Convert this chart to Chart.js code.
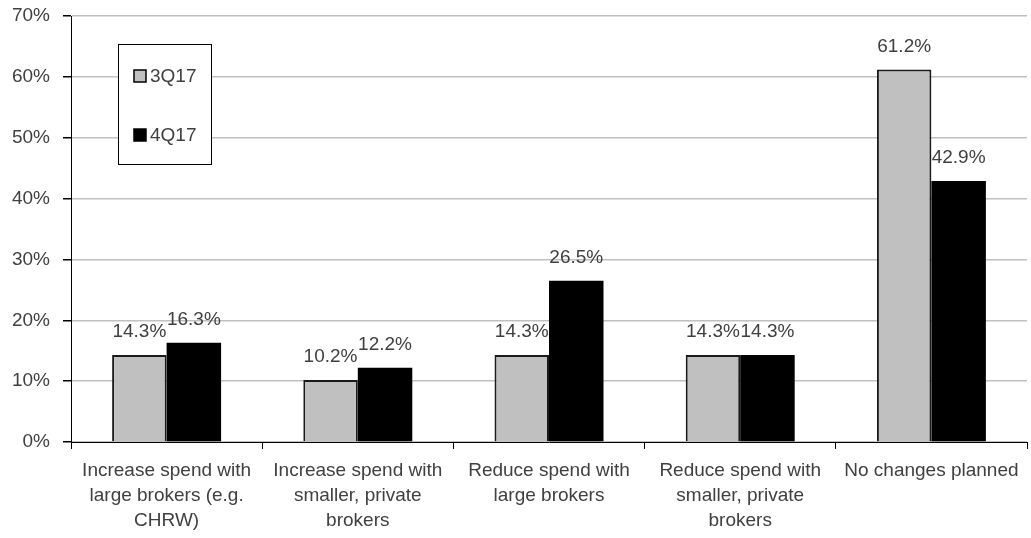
<!DOCTYPE html>
<html>
<head>
<meta charset="utf-8">
<script src="https://cdn.jsdelivr.net/npm/chart.js@4/dist/chart.umd.min.js"></script>
<style>
  html, body { margin: 0; padding: 0; background: #fff; }
  #wrap { width: 1031px; height: 538px; }
</style>
</head>
<body>
<div id="wrap"><canvas id="chart"></canvas></div>
<script>
// data
const categories = [
    ["Increase spend with", "large brokers (e.g.", "CHRW)"],
    ["Increase spend with", "smaller, private", "brokers"],
    ["Reduce spend with", "large brokers"],
    ["Reduce spend with", "smaller, private", "brokers"],
    ["No changes planned"]
];
const series3Q17 = [14.3, 10.2, 14.3, 14.3, 61.2];
const series4Q17 = [16.3, 12.2, 26.5, 14.3, 42.9];
const seriesNames = ["3Q17", "4Q17"];
const yTicks = [0, 10, 20, 30, 40, 50, 60, 70];

const FONT = "'Liberation Sans', Arial, sans-serif";
const SIZE = 19;
const TEXT = '#404040';

//labels above every bar
const valueLabels = {
    id: 'valueLabels',
    afterDatasetsDraw(chart) {
        const ctx = chart.ctx;
        ctx.save();
        ctx.font = SIZE + 'px ' + FONT;
        ctx.fillStyle = TEXT;
        ctx.textAlign = 'center';
        ctx.textBaseline = 'middle';
        chart.data.datasets.forEach((ds, i) => {
            chart.getDatasetMeta(i).data.forEach((bar, j) => {
                ctx.fillText(ds.data[j].toFixed(1) + '%', bar.x, bar.y - 23);
            });
        });
        ctx.restore();
    }
};

//boxed legend inside the plot, top left
const boxLegend = {
    id: 'boxLegend',
    afterDraw(chart) {
        const ctx = chart.ctx;
        const a = chart.chartArea;
        const x = a.left + 47, y = a.top + 28, w = 93, h = 120;
        ctx.save();
        ctx.fillStyle = '#fff';
        ctx.fillRect(x, y, w, h);
        ctx.strokeStyle = '#000';
        ctx.lineWidth = 1;
        ctx.strokeRect(x + 0.5, y + 0.5, w, h);
        ctx.font = SIZE + 'px ' + FONT;
        ctx.textBaseline = 'middle';
        chart.data.datasets.forEach((ds, i) => {
            const cy = y + 32 + i * 59;
            ctx.fillStyle = ds.backgroundColor;
            ctx.fillRect(x + 16, cy - 6, 12, 12);
            ctx.strokeStyle = '#000';
            ctx.lineWidth = 1.5;
            ctx.strokeRect(x + 16, cy - 6, 12, 12);
            ctx.fillStyle = TEXT;
            ctx.fillText(ds.label, x + 32, cy + 1);
        });
        ctx.restore();
    }
};

new Chart(document.getElementById('chart'), {
    type: 'bar',
    data: {
        labels: categories,
        datasets: [{
            label: seriesNames[0],
            data: series3Q17,
            backgroundColor: '#c0c0c0',
            borderColor: '#1a1a1a',
            borderWidth: 2
        }, {
            label: seriesNames[1],
            data: series4Q17,
            backgroundColor: '#000000',
            borderColor: '#000000',
            borderWidth: 0
        }]
    },
    options: {
        responsive: true,
        maintainAspectRatio: false,
        animation: false,
        layout: { padding: { top: 16, right: 4, left: 0, bottom: 0 } },
        datasets: { bar: { categoryPercentage: 0.57, barPercentage: 1.0 } },
        plugins: {
            legend: { display: false },
            tooltip: { enabled: false }
        },
        scales: {
            x: {
                grid: {
                    offset: true,
                    drawOnChartArea: false,
                    tickLength: 7,
                    tickColor: '#000'
                },
                border: { color: '#000', width: 1 },
                ticks: {
                    color: TEXT,
                    font: { family: FONT, size: SIZE, lineHeight: 1.29 },
                    padding: 10,
                    maxRotation: 0,
                    autoSkip: false
                },
                afterFit(scale) { scale.height = 96; }
            },
            y: {
                min: 0,
                max: 70,
                afterBuildTicks(scale) { scale.ticks = yTicks.map(v => ({ value: v })); },
                grid: {
                    color: '#c0c0c0',
                    lineWidth: 1.5,
                    tickLength: 8,
                    tickColor: '#000'
                },
                border: { color: '#000', width: 1 },
                ticks: {
                    color: TEXT,
                    font: { family: FONT, size: SIZE },
                    padding: 13,
                    callback: v => v + '%'
                },
                afterFit(scale) {
                    scale.width = 71;
                    scale.paddingTop = 0;
                    scale.paddingBottom = 0;
                }
            }
        }
    },
    plugins: [valueLabels, boxLegend]
});
</script>
</body>
</html>
